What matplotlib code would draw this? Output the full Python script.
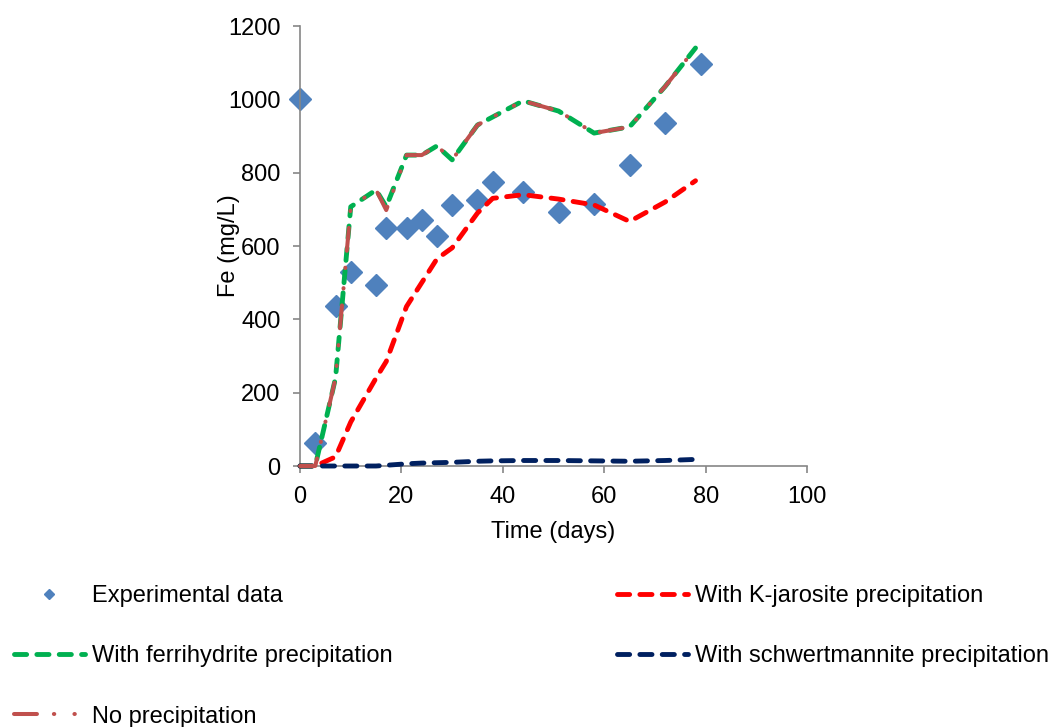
import numpy as np
import matplotlib.pyplot as plt

plt.rcParams['font.family'] = ['Liberation Sans', 'DejaVu Sans']
FS = 17

# experimental Fe concentrations
exp_days = [0, 3, 7, 10, 15, 17, 21, 24, 27, 30, 35, 38, 44, 51, 58, 65, 72, 79]
exp_fe = [1000, 63, 436, 529, 494, 649, 649, 671, 627, 712, 725, 774, 747, 693, 714, 821, 935, 1096]

# model runs
model_days = [0, 3, 7, 10, 15, 17, 21, 24, 27, 30, 35, 38, 44, 51, 58, 65, 72, 78]
kjarosite = [0, 0, 25, 120, 240, 285, 435, 500, 565, 595, 690, 730, 740, 728, 712, 667, 720, 778]
ferrihydrite = [0, 0, 240, 707, 753, 707, 848, 848, 873, 835, 930, 952, 996, 968, 908, 925, 1035, 1140]
schwertmannite = [0, 0, 0, 0, 0, 2, 6, 8, 9, 10, 13, 14, 15, 15, 14, 13, 15, 18]
no_precip = [0, 0, 240, 707, 753, 698, 848, 848, 873, 835, 930, 952, 996, 968, 908, 925, 1035, 1140]

fig = plt.figure(figsize=(10.58, 7.27), dpi=100)
ax = fig.add_axes([0.2836, 0.359, 0.4792, 0.6052])

dash = (2.5, 2.1)
ax.plot(exp_days, exp_fe, ls='none', marker='D', ms=11, color='#4F81BD',
        label='Experimental data', zorder=2)
ax.plot(model_days, kjarosite, color='#FF0000', lw=3.5, dashes=dash,
        dash_capstyle='round', label='With K-jarosite precipitation', zorder=3)
ax.plot(model_days, ferrihydrite, color='#00B050', lw=3.5, dashes=dash,
        dash_capstyle='round', label='With ferrihydrite precipitation', zorder=3)
ax.plot(model_days, schwertmannite, color='#002060', lw=3.5, dashes=dash,
        dash_capstyle='round', label='With schwertmannite precipitation', zorder=3)
ax.plot(model_days, no_precip, color='#C0504D', lw=2.9,
        dashes=(5.7, 4.2, 0.1, 5.0, 0.1, 4.2),
        dash_capstyle='round', label='No precipitation', zorder=4)

ax.set_xlim(0, 100)
ax.set_ylim(0, 1200)
ax.set_xticks(np.arange(0, 101, 20))
ax.set_yticks(np.arange(0, 1201, 200))
ax.set_xlabel('Time (days)', fontsize=FS)
ax.set_ylabel('Fe (mg/L)', fontsize=FS)
ax.xaxis.set_label_coords(0.5, -0.125)
ax.yaxis.set_label_coords(-0.118, 0.5)

for side in ['top', 'right']:
    ax.spines[side].set_visible(False)
for side in ['left', 'bottom']:
    ax.spines[side].set_color('#868686')
    ax.spines[side].set_linewidth(1.2)
ax.tick_params(direction='out', length=5, width=1.2, color='#868686', labelsize=FS)
ax.tick_params(axis='y', pad=9)
ax.tick_params(axis='x', pad=9.5)
for ln in ax.lines:
    ln.set_clip_on(False)

# legend under the plot: left column 3 entries, right column 2
handles, labels = ax.get_legend_handles_labels()
order = [0, 2, 4, 1, 3]
fig.legend([handles[i] for i in order], [labels[i] for i in order],
           loc='upper left', bbox_to_anchor=(14 / 1058, 1 - 585 / 727),
           ncol=2, frameon=False, fontsize=FS, handlelength=3.0,
           handletextpad=0.3, columnspacing=9.5, labelspacing=1.62,
           borderpad=0, borderaxespad=0, markerscale=0.5, numpoints=1)

fig.savefig('out.png', dpi=100)
